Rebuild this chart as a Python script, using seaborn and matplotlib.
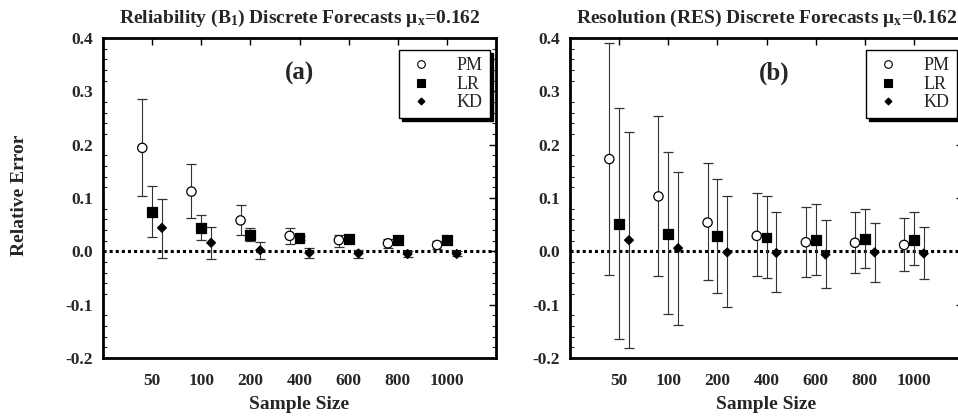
import numpy as np
import pandas as pd
import matplotlib
matplotlib.use("Agg")
import matplotlib.pyplot as plt
import seaborn as sns

sizes = ["50", "100", "200", "400", "600", "800", "1000"]
methods = ["PM", "LR", "KD"]

# Panel (a): Reliability
a_PM = [0.194, 0.112, 0.058, 0.029, 0.021, 0.015, 0.012]
a_PM_hi = [0.285, 0.163, 0.086, 0.044, 0.031, 0.023, 0.020]
a_PM_lo = [0.103, 0.063, 0.031, 0.014, 0.009, 0.007, 0.005]
a_LR = [0.073, 0.044, 0.030, 0.025, 0.023, 0.021, 0.021]
a_LR_hi = [0.123, 0.069, 0.043, 0.029, 0.026, 0.024, 0.024]
a_LR_lo = [0.027, 0.021, 0.019, 0.021, 0.020, 0.018, 0.018]
a_KD = [0.044, 0.016, 0.002, -0.003, -0.004, -0.005, -0.005]
a_KD_hi = [0.099, 0.046, 0.018, 0.006, 0.002, 0.001, 0.000]
a_KD_lo = [-0.012, -0.014, -0.014, -0.013, -0.012, -0.011, -0.009]

# Panel (b): Resolution
b_PM = [0.173, 0.103, 0.054, 0.029, 0.017, 0.016, 0.012]
b_PM_hi = [0.391, 0.254, 0.165, 0.109, 0.084, 0.074, 0.063]
b_PM_lo = [-0.044, -0.047, -0.054, -0.046, -0.048, -0.041, -0.037]
b_LR = [0.051, 0.033, 0.028, 0.026, 0.021, 0.023, 0.022]
b_LR_hi = [0.268, 0.187, 0.135, 0.104, 0.088, 0.080, 0.073]
b_LR_lo = [-0.164, -0.117, -0.079, -0.050, -0.044, -0.032, -0.026]
b_KD = [0.021, 0.006, -0.002, -0.003, -0.006, -0.002, -0.004]
b_KD_hi = [0.223, 0.149, 0.103, 0.073, 0.059, 0.054, 0.045]
b_KD_lo = [-0.182, -0.139, -0.105, -0.077, -0.069, -0.058, -0.052]

titles = [r"Reliability (B$_\mathregular{1}$) Discrete Forecasts $\mu_\mathregular{x}$=0.162",
          r"Resolution (RES) Discrete Forecasts $\mu_\mathregular{x}$=0.162"]
panel_labels = ["(a)", "(b)"]

def make_df(pm, pmh, pml, lr, lrh, lrl, kd, kdh, kdl):
    rows = []
    for m, v, h, l in [("PM", pm, pmh, pml), ("LR", lr, lrh, lrl), ("KD", kd, kdh, kdl)]:
        for i, s in enumerate(sizes):
            rows.append(dict(size=s, idx=i + 1, method=m, val=v[i], hi=h[i], lo=l[i]))
    return pd.DataFrame(rows)

dfa = make_df(a_PM, a_PM_hi, a_PM_lo, a_LR, a_LR_hi, a_LR_lo, a_KD, a_KD_hi, a_KD_lo)
dfb = make_df(b_PM, b_PM_hi, b_PM_lo, b_LR, b_LR_hi, b_LR_lo, b_KD, b_KD_hi, b_KD_lo)

sns.set_theme(style="white")
plt.rcParams["font.family"] = ["Liberation Serif", "DejaVu Serif"]
plt.rcParams["font.weight"] = "bold"
plt.rcParams["mathtext.fontset"] = "custom"
plt.rcParams["mathtext.rm"] = "Liberation Serif:bold"
plt.rcParams["mathtext.it"] = "Liberation Serif:bold"
plt.rcParams["mathtext.bf"] = "Liberation Serif:bold"
plt.rcParams["mathtext.default"] = "regular"

offsets = {"PM": -0.2, "LR": 0.0, "KD": 0.2}
markers = {"PM": "o", "LR": "s", "KD": "D"}
msize = {"PM": 45, "LR": 50, "KD": 20}
faces = {"PM": "white", "LR": "black", "KD": "black"}

fig = plt.figure(figsize=(9.58, 4.19), dpi=100)
axes = [fig.add_axes([0.1075, 0.1456, 0.4103, 0.7637]),
        fig.add_axes([0.595, 0.1456, 0.4103, 0.7637])]

for ax, df, title, lab, labx in zip(axes, [dfa, dfb], titles, panel_labels, [0.5, 0.52]):
    df = df.copy()
    df["pos"] = df["idx"] + df["method"].map(offsets)
    ax.axhline(0, color="black", lw=2.2, ls=(0, (1, 1)), zorder=1)
    for m in methods:
        sub = df[df["method"] == m]
        ax.errorbar(sub["pos"], sub["val"],
                    yerr=[sub["val"] - sub["lo"], sub["hi"] - sub["val"]],
                    fmt="none", ecolor="#333333", elinewidth=0.8, capsize=3.5,
                    capthick=0.9, zorder=2)
    sns.scatterplot(data=df, x="pos", y="val", hue="method", style="method",
                    hue_order=methods, style_order=methods,
                    palette={m: "black" for m in methods},
                    markers=markers, ax=ax, zorder=3, legend=False,
                    s=40, edgecolor="black", linewidth=0.9)
    coll = ax.collections[-1]
    fc = [faces[m] for m in df["method"]]
    coll.set_facecolors(fc)
    coll.set_edgecolors("black")
    coll.set_sizes([msize[m] for m in df["method"]])

    ax.set_xlim(0, 8)
    ax.set_ylim(-0.2, 0.4)
    ax.set_xticks(range(1, 8))
    ax.set_xticklabels(sizes)
    ax.set_yticks(np.arange(-0.2, 0.41, 0.1))
    ax.set_yticklabels([f"{v:.1f}" for v in np.arange(-0.2, 0.41, 0.1)])
    ax.set_yticks(np.arange(-0.2, 0.401, 0.02), minor=True)
    ax.tick_params(axis="both", which="major", direction="in", length=5, width=1,
                   top=True, right=True, labelsize=12.5, pad=7, color="black")
    ax.tick_params(axis="y", which="minor", direction="in", length=3, width=0.8,
                   left=True, right=True)
    ax.tick_params(axis="x", pad=11)
    for t in ax.get_xticklabels() + ax.get_yticklabels():
        t.set_fontweight("bold")
    for sp in ax.spines.values():
        sp.set_linewidth(2)
        sp.set_color("black")
    ax.set_xlabel("Sample Size", fontsize=14, fontweight="bold", labelpad=5)
    ax.set_ylabel("")
    ax.set_title(title, fontsize=14, fontweight="bold", pad=11)
    ax.text(labx, 0.89, lab, transform=ax.transAxes, ha="center", va="center",
            fontsize=18, fontweight="bold")

    handles = [plt.Line2D([], [], ls="none", marker=markers[m],
                          markersize={"PM": 5.5, "LR": 6, "KD": 3.5}[m],
                          markerfacecolor=faces[m], markeredgecolor="black",
                          markeredgewidth=0.8) for m in methods]
    leg = ax.legend(handles, methods, loc="upper right", bbox_to_anchor=(0.985, 0.962),
                    frameon=True, fancybox=False, shadow={"color": "black", "alpha": 1},
                    edgecolor="black", framealpha=1, handletextpad=1.2,
                    borderpad=0.4, borderaxespad=0.0, labelspacing=0.08,
                    handlelength=1.6,
                    prop={"family": "Liberation Serif", "weight": "normal", "size": 13})
    leg.get_frame().set_linewidth(1)

fig.text(0.02, 0.535, "Relative Error", rotation=90, ha="center", va="center",
         fontsize=14, fontweight="bold")

fig.savefig("out.png", dpi=100)
